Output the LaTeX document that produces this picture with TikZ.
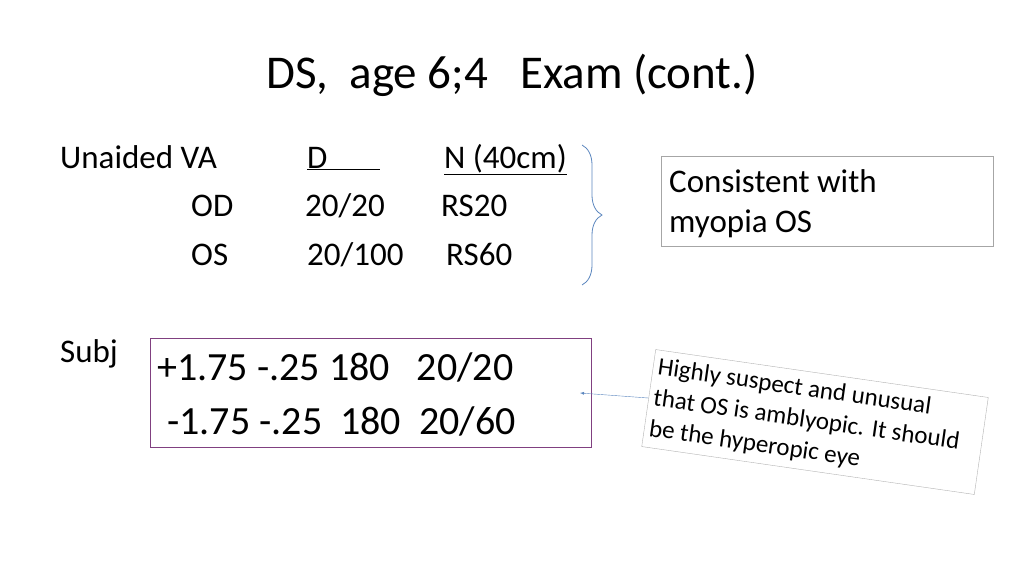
\documentclass[tikz,border=0pt]{standalone}
\usepackage{fontspec}
\setmainfont{Carlito}
\usetikzlibrary{decorations.pathreplacing}
\begin{document}
\begin{tikzpicture}[x=1pt,y=-1pt,
  txt/.style={anchor=base west,inner sep=0pt,font=\fontsize{33}{40}\selectfont},
  big/.style={anchor=base west,inner sep=0pt,font=\fontsize{40}{48}\selectfont}]
\useasboundingbox (0,0) rectangle (1024,576);
\node[inner sep=0pt,font=\fontsize{47}{56}\selectfont] (title) at (512,75) {DS,\ \ age 6;4\ \ \ Exam (cont.)};
\node[txt] (ua) at (60,168) {Unaided VA};
\node[txt] (d) at (307,168) {\underline{D\hspace{52pt}}};
\node[txt] (n) at (444,168) {\underline{N (40cm)}};
\node[txt] (od) at (191,216) {OD};
\node[txt] (od1) at (305,216) {20/20};
\node[txt] (od2) at (441,216) {RS20};
\node[txt] (os) at (191,265) {OS};
\node[txt] (os1) at (307,265) {20/100};
\node[txt] (os2) at (446,265) {RS60};
\definecolor{steel}{RGB}{91,134,190}
\draw[color=steel,thick,decorate,decoration={brace,amplitude=20pt}] (582,145) -- (582,285);
\node[draw=gray!70,anchor=north west,minimum width=332pt,minimum height=90pt,inner sep=0pt] (cons) at (661,156) {};
\node[txt] (ct1) at (669,192) {Consistent with};
\node[txt] (ct2) at (669,232) {myopia OS};
\node[txt] (subj) at (60,362) {Subj};
\node[draw=violet!50!gray,anchor=north west,minimum width=441pt,minimum height=109pt,inner sep=0pt] (sbox) at (150,338) {};
\node[big] (s1) at (157,380) {+1.75 -.25 180\ \ \ 20/20};
\node[big] (s2) at (167,434) {-1.75 -.25\ \ 180\ \ 20/60};
\node[draw=gray!60,rotate=-8.2,minimum width=336pt,minimum height=98pt,align=flush left,text width=326pt,inner sep=5pt,font=\fontsize{25}{31}\selectfont] (hs) at (815,422) {Highly suspect and unusual\\that OS is amblyopic. It should\\be the hyperopic eye};
\coordinate (at) at (580,393);
\draw[-latex,color=steel] (hs.west) -- (at);
\end{tikzpicture}
\end{document}
